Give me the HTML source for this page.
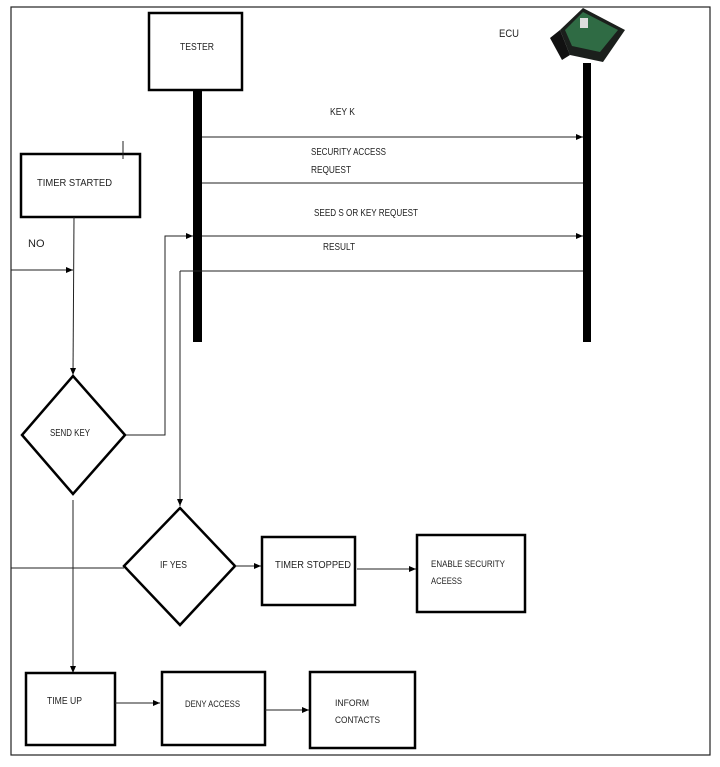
<!DOCTYPE html>
<html><head><style>
body{margin:0;background:#fff;}
svg text{font-family:"Liberation Sans",sans-serif;font-size:10px;fill:#222;}
</style></head><body>
<svg width="720" height="762" viewBox="0 0 720 762" xmlns="http://www.w3.org/2000/svg">
<defs><marker id="a" markerWidth="8" markerHeight="8" refX="7" refY="4" orient="auto" markerUnits="userSpaceOnUse"><path d="M0,1 L7,4 L0,7 Z" fill="#000"/></marker></defs>
<rect x="11" y="7" width="699" height="748" fill="none" stroke="#222" stroke-width="1.2"/>
<!-- tester -->
<rect x="149" y="13" width="93" height="77" fill="none" stroke="#000" stroke-width="2.5"/>
<text x="180" y="50" textLength="34" lengthAdjust="spacingAndGlyphs">TESTER</text>
<rect x="193" y="90" width="9" height="252" fill="#000"/>
<!-- ECU -->
<text x="499" y="37" style="font-size:11px" textLength="20" lengthAdjust="spacingAndGlyphs">ECU</text>
<polygon points="560,30 583,8 625,30 603,62 570,55" fill="#1b1f1c"/>
<polygon points="565,30 583,12 618,30 600,52 572,46" fill="#2f6b44"/>
<rect x="580" y="18" width="8" height="10" fill="#ddd"/>
<polygon points="550,38 560,30 570,55 562,60" fill="#111"/>
<rect x="583" y="63" width="8" height="279" fill="#000"/>
<!-- messages -->
<text x="330" y="115" textLength="25" lengthAdjust="spacingAndGlyphs">KEY K</text>
<line x1="202" y1="137" x2="583" y2="137" stroke="#222" marker-end="url(#a)"/>
<text x="311" y="155" textLength="75" lengthAdjust="spacingAndGlyphs">SECURITY ACCESS</text>
<text x="311" y="173" textLength="40" lengthAdjust="spacingAndGlyphs">REQUEST</text>
<line x1="202" y1="183" x2="583" y2="183" stroke="#222"/>
<text x="314" y="216" textLength="104" lengthAdjust="spacingAndGlyphs">SEED S OR KEY REQUEST</text>
<line x1="202" y1="236" x2="583" y2="236" stroke="#222" marker-end="url(#a)"/>
<text x="323" y="250" textLength="32" lengthAdjust="spacingAndGlyphs">RESULT</text>
<line x1="180" y1="271" x2="583" y2="271" stroke="#222"/>
<!-- loop lines -->
<polyline points="125,435 165,435 165,236 193,236" fill="none" stroke="#222" marker-end="url(#a)"/>
<line x1="180" y1="271" x2="180" y2="506" stroke="#222" marker-end="url(#a)"/>
<!-- timer started -->
<rect x="21" y="154" width="119" height="63" fill="none" stroke="#000" stroke-width="2.5"/>
<text x="37" y="186" textLength="75" lengthAdjust="spacingAndGlyphs">TIMER STARTED</text>
<line x1="123" y1="141" x2="123" y2="159" stroke="#222"/>
<text x="28" y="247" style="font-size:11px">NO</text>
<line x1="74" y1="217" x2="73" y2="375" stroke="#222" marker-end="url(#a)"/>
<line x1="11" y1="270" x2="73" y2="270" stroke="#222" marker-end="url(#a)"/>
<!-- send key -->
<polygon points="73,376 125,435 73,494 22,435" fill="#fff" stroke="#000" stroke-width="2.5"/>
<text x="50" y="436" textLength="40" lengthAdjust="spacingAndGlyphs">SEND KEY</text>
<line x1="73" y1="500" x2="73" y2="673" stroke="#222" marker-end="url(#a)"/>
<!-- if yes -->
<line x1="11" y1="568" x2="124" y2="568" stroke="#222"/>
<polygon points="180,508 235,566 180,625 124,566" fill="#fff" stroke="#000" stroke-width="2.5"/>
<text x="160" y="568" textLength="27" lengthAdjust="spacingAndGlyphs">IF YES</text>
<line x1="235" y1="566" x2="261" y2="566" stroke="#222" marker-end="url(#a)"/>
<rect x="262" y="537" width="93" height="68" fill="none" stroke="#000" stroke-width="2.5"/>
<text x="275" y="568" textLength="76" lengthAdjust="spacingAndGlyphs">TIMER STOPPED</text>
<line x1="357" y1="569" x2="416" y2="569" stroke="#222" marker-end="url(#a)"/>
<rect x="417" y="535" width="108" height="77" fill="none" stroke="#000" stroke-width="2.5"/>
<text x="431" y="567" style="font-size:9px" textLength="74" lengthAdjust="spacingAndGlyphs">ENABLE SECURITY</text>
<text x="431" y="584" style="font-size:9px" textLength="31" lengthAdjust="spacingAndGlyphs">ACEESS</text>
<!-- bottom row -->
<rect x="26" y="673" width="89" height="72" fill="none" stroke="#000" stroke-width="2.5"/>
<text x="47" y="704" textLength="35" lengthAdjust="spacingAndGlyphs">TIME UP</text>
<line x1="115" y1="703" x2="160" y2="703" stroke="#222" marker-end="url(#a)"/>
<rect x="162" y="672" width="103" height="73" fill="none" stroke="#000" stroke-width="2.5"/>
<text x="185" y="707" style="font-size:9.5px" textLength="55" lengthAdjust="spacingAndGlyphs">DENY ACCESS</text>
<line x1="265" y1="710" x2="309" y2="710" stroke="#222" marker-end="url(#a)"/>
<rect x="310" y="672" width="105" height="76" fill="none" stroke="#000" stroke-width="2.5"/>
<text x="335" y="706" style="font-size:9.5px" textLength="34" lengthAdjust="spacingAndGlyphs">INFORM</text>
<text x="335" y="723" style="font-size:9.5px" textLength="45" lengthAdjust="spacingAndGlyphs">CONTACTS</text>
</svg>
</body></html>
